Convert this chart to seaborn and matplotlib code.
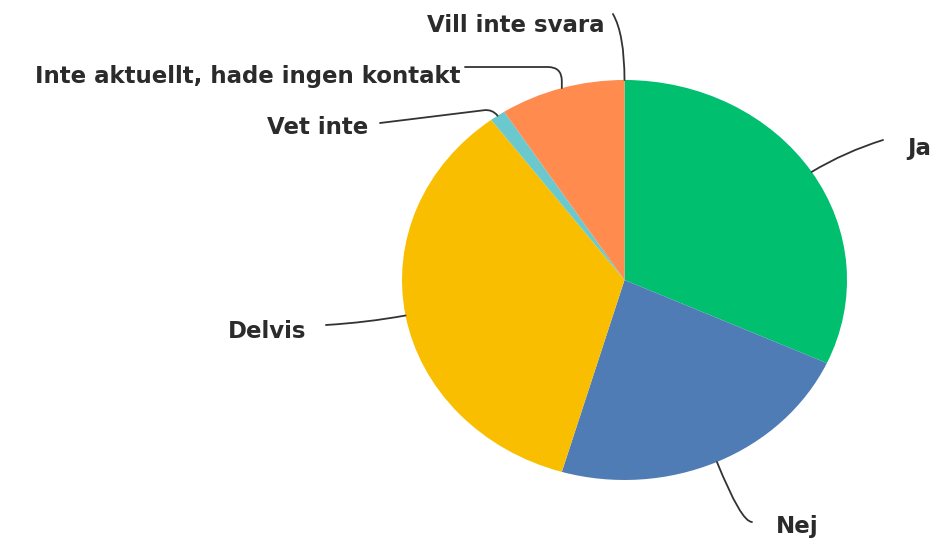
import numpy as np
import seaborn as sns
import matplotlib.pyplot as plt

labels = ["Ja", "Nej", "Delvis", "Vet inte",
          "Inte aktuellt, hade ingen kontakt", "Vill inte svara"]
counts = [28, 20, 31, 1, 8, 0]
colors = ["#00BF6F", "#507CB6", "#F9BE00", "#6BC8CD", "#FF8B4F", "#A6A6A6"]

# label text anchor (data units), alignment, leader end, connection style
label_pos = [(1.272, 0.66), (0.681, -1.235), (-1.432, -0.255),
             (-1.153, 0.76), (-0.739, 1.015), (-0.088, 1.275)]
label_ha = ["left", "left", "right", "right", "right", "right"]
line_end = [(1.162, 0.70), (0.573, -1.21), (-1.342, -0.225),
            (-1.099, 0.785), (-0.717, 1.065), (-0.052, 1.33)]
conn = ["arc3,rad=0.06", "angle3,angleA=0,angleB=-68", "arc3,rad=0.03",
        "angle,angleA=7,angleB=-50,rad=8", "angle,angleA=0,angleB=90,rad=14",
        "angle3,angleA=-60,angleB=90"]


def main():
    sns.set_theme(style="white")
    plt.rcParams["font.family"] = ["DejaVu Sans"]
    fig = plt.figure(figsize=(9.41, 5.46), dpi=100)
    ax = fig.add_axes([0, 0, 1, 1])
    wedges, _ = ax.pie(counts, colors=sns.color_palette(colors),
                       startangle=90, counterclock=False,
                       wedgeprops=dict(linewidth=0))
    ax.set_aspect("auto")
    ax.set_xlim(-624.5 / 222.5, (941 - 624.5) / 222.5)
    ax.set_ylim(-266 / 200, 280 / 200)
    ax.axis("off")

    for w, lab, pos, ha, end, cs in zip(wedges, labels, label_pos, label_ha,
                                        line_end, conn):
        mid = np.deg2rad((w.theta1 + w.theta2) / 2)
        edge = (np.cos(mid), np.sin(mid))
        ax.annotate("", xy=edge, xytext=end,
                    arrowprops=dict(arrowstyle="-", color="#333333", lw=1.3,
                                    shrinkA=0, shrinkB=0, connectionstyle=cs))
        ax.text(pos[0], pos[1], lab, ha=ha, va="center", fontsize=16.5,
                fontweight="bold", color="#2b2b2b")

    fig.savefig("out.png", dpi=100)


if __name__ == "__main__":
    main()
